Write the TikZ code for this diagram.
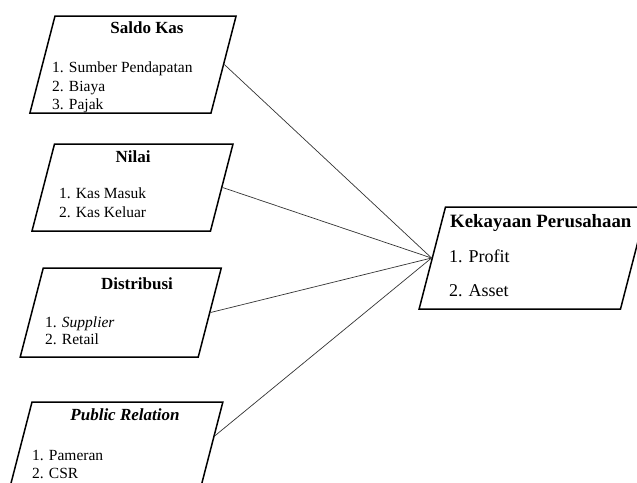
\documentclass[tikz,border=0pt]{standalone}
\usepackage{fontspec}
\setmainfont{Liberation Serif}
\usetikzlibrary{shapes.geometric,calc}

\begin{document}
\begin{tikzpicture}[x=1pt, y=-1pt,
  kotak/.style={draw, line width=1.5pt, trapezium, trapezium left angle=75.5, trapezium right angle=104.5, inner sep=0pt, text depth=0pt},
  judul/.style={anchor=base, inner sep=0pt, font=\bfseries\fontsize{17}{20}\selectfont},
  butir/.style={anchor=base west, inner sep=0pt, font=\fontsize{15.5}{18}\selectfont},
  garis/.style={line width=0.7pt, black!80}]
  \clip (0,0) rectangle (637,482);
  % kotak kiri
  \node[kotak, text width=156pt, text height=97pt] (saldo) at (133,64.5) {};
  \node[kotak, text width=156pt, text height=87pt] (nilai) at (132.5,187.5) {};
  \node[kotak, text width=155pt, text height=89pt] (dist) at (120.75,312.5) {};
  \node[kotak, text width=165pt, text height=100pt] (pr) at (114.5,452) {};
  % kotak kanan
  \node[kotak, text width=175pt, text height=102pt] (kaya) at (533,258) {};
  % teks
  \node[judul] (saldo-j) at (147,33) {Saldo Kas};
  \node[butir] (saldo-1) at (52,72) {1. Sumber Pendapatan};
  \node[butir] (saldo-2) at (52,91) {2. Biaya};
  \node[butir] (saldo-3) at (52,109) {3. Pajak};
  \node[judul] (nilai-j) at (133,162) {Nilai};
  \node[butir] (nilai-1) at (59,198) {1. Kas Masuk};
  \node[butir] (nilai-2) at (59,217) {2. Kas Keluar};
  \node[judul] (dist-j) at (137,289) {Distribusi};
  \node[butir] (dist-1) at (45,327) {1. \textit{Supplier}};
  \node[butir] (dist-2) at (45,344) {2. Retail};
  \node[judul] (pr-j) at (125,420) {\textit{Public Relation}};
  \node[butir] (pr-1) at (32,460) {1. Pameran};
  \node[butir] (pr-2) at (32,478) {2. CSR};
  \node[judul, anchor=base west, font=\bfseries\fontsize{18.8}{22}\selectfont] (kaya-j) at (450,227) {Kekayaan Perusahaan};
  \node[butir, font=\fontsize{18}{21}\selectfont] (kaya-1) at (449,262) {1. Profit};
  \node[butir, font=\fontsize{18}{21}\selectfont] (kaya-2) at (449,296) {2. Asset};
  % garis penghubung
  \draw[garis] (saldo.east) -- (kaya.west);
  \draw[garis] (nilai.east) -- (kaya.west);
  \draw[garis] (dist.east) -- (kaya.west);
  \draw[garis] ($(pr.top right corner)!0.34!(pr.bottom right corner)$) -- (kaya.west);
\end{tikzpicture}
\end{document}
